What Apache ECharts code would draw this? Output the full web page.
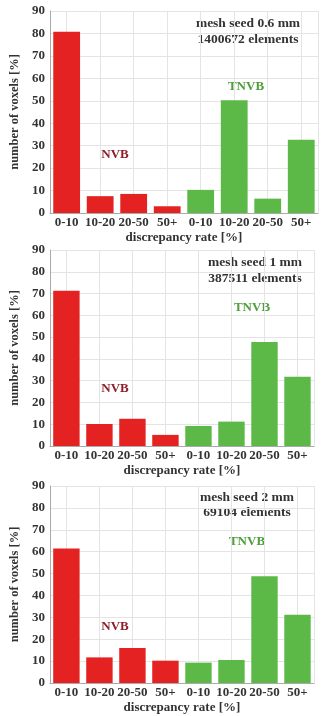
<!DOCTYPE html>
<html>
<head>
<meta charset="utf-8">
<script src="https://cdn.jsdelivr.net/npm/echarts@6/dist/echarts.min.js"></script>
<style>
html,body{margin:0;padding:0;background:#fff;}
#c{width:323px;height:716px;}
</style>
</head>
<body>
<div id="c"></div>
<script>
var categories = ["0-10","10-20","20-50","50+","0-10","10-20","20-50","50+"];
var groups = ["NVB","NVB","NVB","NVB","TNVB","TNVB","TNVB","TNVB"];
var panel1Values = [80.7, 7.5, 8.5, 3.0, 10.3, 50.2, 6.4, 32.6];
var panel2Values = [71.3, 10.1, 12.5, 5.1, 9.2, 11.2, 47.7, 31.8];
var panel3Values = [61.5, 11.7, 16.0, 10.2, 9.3, 10.5, 48.8, 31.2];
var panelTitles = [["mesh seed 0.6 mm","1400672 elements"],["mesh seed 1 mm","387511 elements"],["mesh seed 2 mm","69104 elements"]];
var yTicks = [0,10,20,30,40,50,60,70,80,90];
var xName = "discrepancy rate [%]";
var yName = "number of voxels [%]";

var allValues = [panel1Values, panel2Values, panel3Values];
var grids = [
  {left:43, right:5, top:11, height:202},
  {left:44, right:9, top:250, height:196},
  {left:44, right:9, top:486, height:197}
];
var colorFor = {NVB:"#e42222", TNVB:"#5cb947"};
var FONT = "Liberation Serif";
var halfCats = [];
for (var i=0;i<categories.length*2;i++) halfCats.push(String(i));

var xAxes=[], yAxes=[], series=[], graphics=[];
grids.forEach(function(g, k){
  xAxes.push({
    type:'category', gridIndex:k, data:categories,
    axisLine:{show:true, lineStyle:{color:'#aaaaaa'}},
    axisTick:{show:false},
    axisLabel:{interval:0, margin:3, color:'#333', fontFamily:FONT, fontWeight:'bold', fontSize:13},
    splitLine:{show:false},
    name:xName, nameLocation:'middle', nameGap:18,
    nameTextStyle:{color:'#333', fontFamily:FONT, fontWeight:'bold', fontSize:13, verticalAlign:'top'}
  });
  xAxes.push({
    type:'category', gridIndex:k, data:halfCats, position:'top',
    axisLine:{show:false}, axisTick:{show:false}, axisLabel:{show:false},
    splitLine:{show:true, interval:function(idx){return idx%2===1;}, lineStyle:{color:'#e4e4e4', width:1}}
  });
  yAxes.push({
    type:'value', gridIndex:k, min:yTicks[0], max:yTicks[yTicks.length-1], interval:10,
    axisLine:{show:true, lineStyle:{color:'#aaaaaa'}},
    axisTick:{show:false},
    axisLabel:{margin:5, color:'#333', fontFamily:FONT, fontWeight:'bold', fontSize:13},
    splitLine:{show:true, lineStyle:{color:'#e4e4e4'}},
    name:yName, nameLocation:'middle', nameGap:25,
    nameTextStyle:{color:'#333', fontFamily:FONT, fontWeight:'bold', fontSize:12.5}
  });
  series.push({
    type:'bar', xAxisIndex:k*2, yAxisIndex:k,
    barCategoryGap:'20%',
    data: allValues[k].map(function(v,i){return {value:v, itemStyle:{color:colorFor[groups[i]]}};}),
    silent:true
  });
});

var titleCenters = [[248,24,40],[255,263,279],[247,498,513]];
var nvbPos = [[115,155],[115,389],[115,627]];
var tnvbPos = [[246,87],[252,308],[247,542]];
for (var k=0;k<3;k++){
  graphics.push({type:'text', x:titleCenters[k][0], y:titleCenters[k][1], style:{text:panelTitles[k][0], textAlign:'center', textVerticalAlign:'middle', fill:'#333', font:'bold 13.5px "Liberation Serif"'}});
  graphics.push({type:'text', x:titleCenters[k][0], y:titleCenters[k][2], style:{text:panelTitles[k][1], textAlign:'center', textVerticalAlign:'middle', fill:'#333', font:'bold 13.5px "Liberation Serif"'}});
  graphics.push({type:'text', x:nvbPos[k][0], y:nvbPos[k][1], style:{text:'NVB', textAlign:'center', textVerticalAlign:'middle', fill:'#8e1f2a', font:'bold 13px "Liberation Serif"'}});
  graphics.push({type:'text', x:tnvbPos[k][0], y:tnvbPos[k][1], style:{text:'TNVB', textAlign:'center', textVerticalAlign:'middle', fill:'#4f9e3c', font:'bold 13px "Liberation Serif"'}});
}

var chart = echarts.init(document.getElementById('c'), null, {renderer:'canvas'});
chart.setOption({
  animation:false,
  backgroundColor:'#ffffff',
  grid: grids,
  xAxis: xAxes,
  yAxis: yAxes,
  series: series,
  graphic: graphics
});
</script>
</body>
</html>
